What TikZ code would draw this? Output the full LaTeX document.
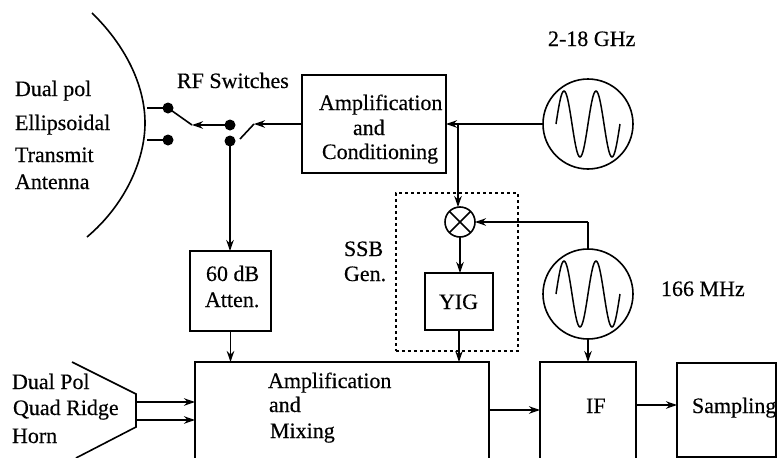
\documentclass[tikz,border=0pt]{standalone}
\usepackage{fontspec}
\setmainfont[FakeBold=0.35]{Liberation Serif}
\usetikzlibrary{arrows.meta}
\tikzset{
  x=1pt,y=-1pt,
  lbl/.style={inner sep=0pt,outer sep=0pt,anchor=base west,font=\fontsize{22}{24}\selectfont,text=black},
  blockbox/.style={draw,line width=1.6pt,inner sep=0pt,outer sep=0pt,anchor=north west},
  osc/.style={draw,circle,line width=1.6pt,minimum size=90pt,inner sep=0pt,outer sep=0pt},
  mixer/.style={draw,circle,line width=1.6pt,minimum size=30pt,inner sep=0pt,outer sep=0pt},
  dotn/.style={fill,circle,minimum size=11pt,inner sep=0pt,outer sep=0pt},
  wire/.style={line width=1.6pt},
  arr/.style={line width=1.6pt,-{Stealth[length=11pt,width=7.5pt]}},
  wave/.style={line width=1.5pt,smooth,samples=65,domain=-32:32},
  groupbox/.style={draw,dash pattern=on 3pt off 3pt,line width=1.5pt,inner sep=0pt,anchor=north west}
}
\newcommand{\oscwave}[1]{\draw[wave,shift={(#1)}] plot (\x,{-33*sin(11.25*(\x+32))});}
\begin{document}
\begin{tikzpicture}
\clip (0,0) rectangle (777,458);
\fill[white] (0,0) rectangle (777,458);
% antenna
\coordinate (antA) at (92,13);
\coordinate (antB) at (145,123);
\coordinate (antC) at (87,237);
\draw[wire] (antA) .. controls (125,45) and (145,85) .. (antB) .. controls (145,160) and (125,205) .. (antC);
% dots
\node[dotn] (d1) at (168,108) {};
\node[dotn] (d2) at (168,140) {};
\node[dotn] (d3) at (230,125) {};
\node[dotn] (d4) at (230,141) {};
\coordinate (s1) at (147,108);
\coordinate (s2) at (147,140);
\coordinate (j1) at (192,125);
\coordinate (j2) at (254,124);
\coordinate (j3) at (240,139);
\draw[wire] (s1) -- (d1.center) -- (j1);
\draw[wire] (s2) -- (d2.center);
\draw[wire] (j3) -- (j2);
% boxes
\node[blockbox,minimum width=144pt,minimum height=98pt] (amp) at (302,75) {};
\node[blockbox,minimum width=81pt,minimum height=80pt] (att) at (190,251) {};
\node[blockbox,minimum width=294pt,minimum height=110pt] (main) at (195,362) {};
\node[blockbox,minimum width=68pt,minimum height=57pt] (yig) at (425,273) {};
\node[blockbox,minimum width=96pt,minimum height=110pt] (ifb) at (540,362) {};
\node[blockbox,minimum width=99pt,minimum height=94pt] (samp) at (677,363) {};
\node[groupbox,minimum width=122pt,minimum height=158pt] (ssb) at (395,192) {};
% oscillators and mixer
\node[osc] (osc1) at (588,124) {};
\node[osc] (osc2) at (588,294) {};
\oscwave{588,124}
\oscwave{588,294}
\node[mixer] (mix) at (460,222) {};
\draw[line width=1.6pt] (mix.45) -- (mix.225) (mix.135) -- (mix.315);
% connectors
\draw[arr] (d3.center) -- (j1);
\draw[arr] (amp.west |- j2) -- (j2);
\draw[arr] (d4.center) -- (att.north -| d4);
\draw[arr] (att.south) -- (att.south |- main.north);
\draw[arr] (osc1.west) -- (amp.east);
\coordinate (tee) at (458,124);
\draw[arr] (tee) -- (mix.north -| tee);
\draw[wire] (osc2.north) -- (osc2.north |- mix);
\draw[arr] (osc2.north |- mix) -- (mix.east);
\draw[arr] (mix.south) -- (mix.south |- yig.north);
\draw[arr] (yig.south) -- (yig.south |- main.north);
\draw[arr] (osc2.south) -- (osc2.south |- ifb.north);
% horn
\coordinate (h1) at (72,362);
\coordinate (h2) at (136,394);
\coordinate (h3) at (136,427);
\coordinate (h4) at (76,458);
\draw[wire] (h1) -- (h2) -- (h3) -- (h4);
\coordinate (h5) at (136,402);
\coordinate (h6) at (136,420);
\draw[arr] (h5) -- (h5 -| main.west);
\draw[arr] (h6) -- (h6 -| main.west);
\coordinate (m1) at (489,410);
\draw[arr] (m1) -- (m1 -| ifb.west);
\coordinate (m2) at (636,405);
\draw[arr] (m2) -- (m2 -| samp.west);
% labels
\node[lbl] (t1) at (15,96) {Dual pol};
\node[lbl] (t2) at (15,130) {Ellipsoidal};
\node[lbl] (t3) at (15,162) {Transmit};
\node[lbl] (t4) at (15,189) {Antenna};
\node[lbl] (t5) at (177,88) {RF Switches};
\node[lbl] (t6) at (319,110) {Amplification};
\node[lbl] (t7) at (353,135) {and};
\node[lbl] (t8) at (322,159) {Conditioning};
\node[lbl] (t9) at (548,46) {2-18 GHz};
\node[lbl] (t10) at (344,256) {SSB};
\node[lbl] (t11) at (344,281) {Gen.};
\node[lbl] (t12) at (206,281) {60 dB};
\node[lbl] (t13) at (205,307) {Atten.};
\node[lbl] (t14) at (12,389) {Dual Pol};
\node[lbl] (t15) at (13,415) {Quad Ridge};
\node[lbl] (t16) at (12,443) {Horn};
\node[lbl] (t17) at (268,388) {Amplification};
\node[lbl] (t18) at (269,412) {and};
\node[lbl] (t19) at (270,438) {Mixing};
\node[lbl] (t20) at (439,309) {YIG};
\node[lbl] (t21) at (661,296) {166 MHz};
\node[lbl] (t22) at (586,413) {IF};
\node[lbl] (t23) at (692,413) {Sampling};
\end{tikzpicture}
\end{document}
